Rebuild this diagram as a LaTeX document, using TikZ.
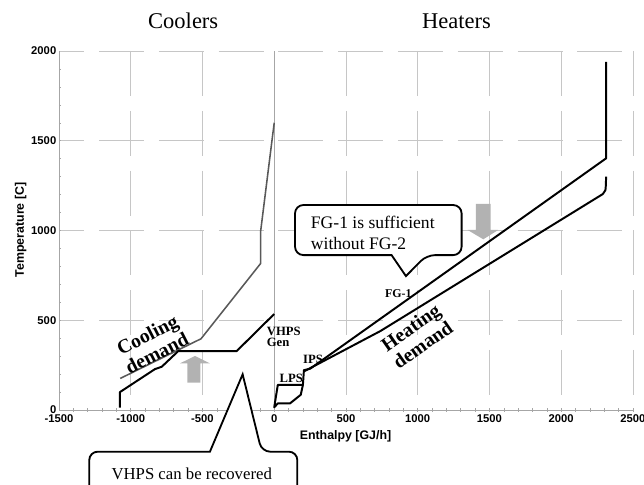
\documentclass[tikz,border=0pt]{standalone}
\usepackage{fontspec}
\setmainfont{Liberation Serif}
\setsansfont{Liberation Sans}
\tikzset{
  gridline/.style={gray!45, line width=0.4pt, dash pattern=on 32pt off 10.5pt},
  axisline/.style={gray!70, line width=0.6pt},
  ticklab/.style={font=\sffamily\bfseries\fontsize{8}{9}\selectfont, inner sep=0.5pt},
  axistitle/.style={font=\sffamily\bfseries\fontsize{8.8}{10}\selectfont},
  hotline/.style={black, line width=1.4pt, line join=round},
  coldline/.style={gray!70!black, line width=1.1pt, line join=round},
  demand/.style={font=\bfseries\fontsize{14}{15}\selectfont, align=center, inner sep=0pt},
  stream/.style={font=\bfseries\fontsize{9}{7.6}\selectfont, inner sep=0pt},
  bubble/.style={draw=black, fill=white, line width=1.3pt},
  bubbletext/.style={font=\fontsize{12.5}{15.4}\selectfont, align=left, inner sep=0pt},
  blockarrow/.style={fill=gray!60, draw=none},
  sidetitle/.style={font=\fontsize{16}{18}\selectfont}
}
\begin{document}
\begin{tikzpicture}[x=0.0035875cm, y=0.0044875cm] % 500 GJ/h and 500 C per grid cell
   \useasboundingbox (-1911,-412) rectangle (2577,2284);
   % grid
   \foreach \x in {-1000,-500,500,1000,...,2500}
      \draw[gridline] (\x,2000) -- (\x,0);
   \foreach \y in {500,1000,...,2000}
      \draw[gridline, dash phase=14pt] (-1500,\y) -- (2500,\y);
   % axes and minor ticks
   \draw[axisline] (-1500,2000) -- (-1500,0) -- (2500,0);
   \draw[axisline] (0,0) -- (0,2000);
   \foreach \x in {-1400,-1300,...,2500}
      \draw[gray!70, line width=0.4pt] (\x,-9) -- (\x,9);
   \foreach \y in {100,200,...,1900}
      \draw[gray!70, line width=0.4pt] (-1500,\y) -- (-1486,\y);
   \foreach \x in {-1500,-1000,...,2500}
      \node[ticklab] (xt\x) at (\x,-50) {\x};
   \foreach \y in {0,500,...,2000}
      \node[ticklab, anchor=east] (yt\y) at (-1512,\y) {\y};
   \node[axistitle] (xtitle) at (497,-149) {Enthalpy [GJ/h]};
   \node[axistitle, rotate=90] (ytitle) at (-1767,1003) {Temperature [C]};
   \node[sidetitle] (coolers) at (-634,2167) {Coolers};
   \node[sidetitle] (heaters) at (1271,2167) {Heaters};
   % cooler curves
   \draw[coldline] (-1073,176) -- (-510,397) -- (-94,817) -- (-94,1000) -- (0,1600);
   \draw[hotline] (-1075,13) -- (-1075,100) -- (-831,228) -- (-784,241) -- (-669,328)
      -- (-262,328) -- (0,535);
   % heater curves
   \draw[hotline] (0,15) -- (25,140) -- (200,140) -- (185,85) -- (110,37) -- (25,37) -- cycle;
   \draw[hotline] (200,140) -- (207,222) -- (250,230) -- (2313,1402) -- (2313,1940);
   \draw[hotline] (207,215) -- (740,440) -- (2290,1203) .. controls (2310,1215) .. (2313,1300);
   % block arrows
   \fill[blockarrow] (-606,152) -- (-606,260) -- (-657,260) -- (-552,301) -- (-448,260)
      -- (-515,260) -- (-515,152) -- cycle;
   \fill[blockarrow] (1406,1148) -- (1406,1003) -- (1348,1003) -- (1457,951) -- (1561,1003)
      -- (1508,1003) -- (1508,1148) -- cycle;
   % labels
   \node[demand, rotate=27] (cooldem) at (-851,368) {Cooling\\demand};
   \node[demand, rotate=35] (heatdem) at (993,412) {Heating\\demand};
   \node[stream, anchor=west, align=left] (vhps) at (-53,408) {VHPS\\Gen};
   \node[stream] (ips) at (270,284) {IPS};
   \node[stream] (lps) at (119,177) {LPS};
   \node[stream, font=\bfseries\fontsize{8.5}{9}\selectfont] (fg1) at (865,646) {FG-1};
   % callouts
   \draw[bubble] (1062,863) -- (918,746) -- (818,863) [rounded corners=6pt] -- (145,863)
      -- (145,1142) -- (1306,1142) -- (1306,863) -- cycle;
   \node[bubbletext, anchor=north west] (fgnote) at (254,1084) {FG-1 is sufficient\\without FG-2};
   \draw[bubble] (-87,-232) -- (-220,199) -- (-448,-232) [rounded corners=6pt] -- (-1289,-232)
      -- (-1289,-520) -- (161,-520) -- (161,-232) -- cycle;
   \node[bubbletext, font=\fontsize{11.9}{14}\selectfont] (vhpsnote) at (-575,-353) {VHPS can be recovered};
\end{tikzpicture}
\end{document}
